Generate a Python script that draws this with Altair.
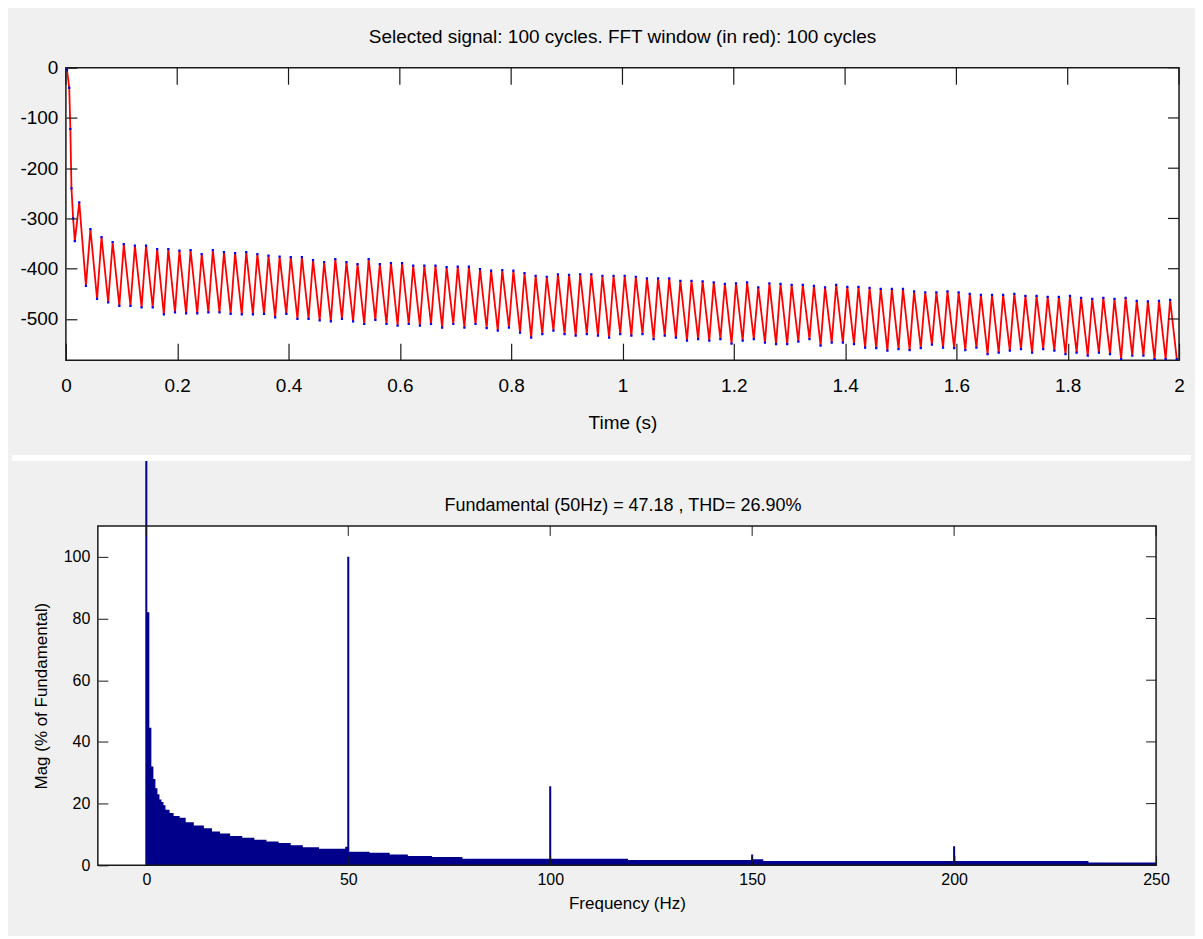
import altair as alt
import pandas as pd

SANS = "Liberation Sans, Arial, Helvetica, sans-serif"
INK = "#1a1a1a"

# ---------------- top panel: selected signal ----------------
transient_t = [0.0, 0.002, 0.006, 0.008, 0.010, 0.013, 0.016]
transient_v = [0, -5, -40, -122, -240, -300, -345]

# per-cycle peak (t = 0.02k + 0.004) and trough (t = 0.02k + 0.016), k = 1..99
peak_v = [
    -268, -321, -337, -347, -351, -354, -354, -361, -361, -364, -363, -371,
    -363, -367, -369, -367, -371, -374, -376, -377, -377, -383, -387, -381,
    -387, -391, -381, -391, -389, -389, -394, -394, -394, -397, -396, -396,
    -401, -404, -403, -404, -409, -414, -416, -411, -412, -411, -411, -414, -414,
    -414, -416, -419, -419, -419, -424, -424, -425, -427, -430, -429, -427,
    -437, -429, -430, -432, -432, -434, -437, -432, -436, -436, -438, -440, -440,
    -440, -445, -447, -447, -445, -447, -450, -452, -452, -452, -450, -454,
    -454, -456, -456, -454, -458, -460, -458, -460, -458, -464, -465, -464, -462,
]
trough_v = [
    -434, -460, -467, -474, -474, -477, -477, -491, -487, -489, -489, -487,
    -487, -490, -491, -491, -490, -497, -490, -500, -500, -503, -505, -500,
    -505, -510, -502, -510, -513, -510, -513, -510, -517, -510, -517, -510,
    -518, -523, -517, -527, -537, -530, -523, -530, -533, -530, -533, -537, -530,
    -533, -530, -540, -533, -537, -543, -540, -543, -540, -549, -543, -540,
    -547, -550, -550, -545, -540, -553, -547, -547, -550, -557, -558, -563, -560,
    -562, -558, -551, -557, -558, -562, -557, -570, -567, -563, -560, -567,
    -560, -563, -570, -567, -573, -567, -570, -580, -573, -573, -580, -580, -580,
]
time_ticks = [0, 0.2, 0.4, 0.6, 0.8, 1, 1.2, 1.4, 1.6, 1.8, 2]
sig_ticks = [-500, -400, -300, -200, -100, 0]

rows = [{"t": t, "v": v} for t, v in zip(transient_t, transient_v)]
for k in range(1, 100):
    rows.append({"t": round(0.02 * k + 0.004, 4), "v": peak_v[k - 1]})
    rows.append({"t": round(0.02 * k + 0.016, 4), "v": trough_v[k - 1]})
sig = pd.DataFrame(rows)

# ---------------- bottom panel: FFT spectrum ----------------
# step edges (Hz) and magnitude (% of fundamental) of the bar envelope
env_f = [-0.25, 0.25, 0.75, 1.25, 1.75, 2.25, 2.75, 3.25, 3.75, 4.25,
         4.75, 5.75, 6.75, 8.25, 9.75, 11.75, 14.25, 16.25, 18.25, 20.75,
         23.75, 26.75, 29.75, 32.75, 35.75, 38.75, 42.75, 49.25, 49.75, 50.25,
         55.25, 60.25, 64.75, 70.75, 78.25, 99.75, 100.25, 119.25, 149.75, 150.25,
         152.75, 199.75, 200.25, 233.25, 250]
env_v = [131, 82, 44.6, 32, 28, 25, 23, 21.3, 20.5, 19.5,
         18, 17, 16, 15.4, 14, 12.9, 12, 11, 10.3, 9.5,
         8.9, 8.3, 7.7, 7.2, 6.5, 5.9, 5.4, 6.0, 100, 4.4,
         4.1, 3.5, 3.0, 2.7, 2.15, 25.6, 2.1, 1.7, 3.5, 2.0,
         1.4, 6.2, 1.4, 0.9, 0.9]
freq_ticks = [0, 50, 100, 150, 200, 250]
mag_ticks = [0, 20, 40, 60, 80, 100]
freq_limits = [-12, 250]
mag_limits = [0, 110]

spec = pd.DataFrame({"f": env_f, "m": env_v})

# ================= top chart =================
W1, H1 = 1115, 293
xs1 = alt.Scale(domain=[0, 2], nice=False, zero=False)
ys1 = alt.Scale(domain=[-582, 0], nice=False, zero=False)

x_axis1 = alt.Axis(values=time_ticks, format="~g", offset=-17, tickSize=17, domain=False,
                   grid=False, labelFont=SANS, labelFontSize=19, labelColor="#000",
                   labelPadding=16, labelFlush=False, labelOverlap=False, tickColor=INK,
                   tickWidth=1.2, title="Time (s)", titleFont=SANS, titleFontSize=19,
                   titleFontWeight="normal", titleColor="#000", titlePadding=18, zindex=1)
y_axis1 = alt.Axis(values=sig_ticks, labelExpr="'' + datum.value", offset=-11, tickSize=11,
                   domain=False, grid=False, labelFont=SANS, labelFontSize=19,
                   labelColor="#000", labelPadding=8, labelOverlap=False, tickColor=INK,
                   tickWidth=1.2, title=None, zindex=1)

red = alt.Chart(sig).mark_line(color="#ff0000", strokeWidth=1.8, clip=True).encode(
    x=alt.X("t:Q", scale=xs1, axis=x_axis1),
    y=alt.Y("v:Q", scale=ys1, axis=y_axis1),
    order="t:Q",
)
blue = alt.Chart(sig).mark_square(color="#0000ff", size=5, opacity=1, clip=True).encode(
    x=alt.X("t:Q", scale=xs1),
    y=alt.Y("v:Q", scale=ys1),
)
top_ticks1 = alt.Chart(pd.DataFrame({"t": time_ticks})).mark_rule(color=INK, strokeWidth=1.2).encode(
    x=alt.X("t:Q", scale=xs1), y=alt.value(0), y2=alt.value(17))
right_ticks1 = alt.Chart(pd.DataFrame({"v": sig_ticks})).mark_rule(color=INK, strokeWidth=1.2).encode(
    y=alt.Y("v:Q", scale=ys1), x=alt.value(W1 - 11), x2=alt.value(W1))

top = alt.layer(red, blue, top_ticks1, right_ticks1).properties(
    width=W1, height=H1,
    view=alt.ViewBackground(fill="white", stroke=INK, strokeWidth=1.5),
    title=alt.TitleParams("Selected signal: 100 cycles. FFT window (in red): 100 cycles",
                          font=SANS, fontSize=19, fontWeight="normal", color="#000",
                          anchor="middle", frame="group", offset=12),
)

# ================= bottom chart =================
W2, H2 = 1092, 340
xs2 = alt.Scale(domain=freq_limits, range=[32, W2], nice=False, zero=False)
ys2 = alt.Scale(domain=mag_limits, nice=False)

x_axis2 = alt.Axis(values=freq_ticks, format="d", offset=-10, tickSize=10, domain=False,
                   grid=False, labelFont=SANS, labelFontSize=16, labelColor="#000",
                   labelPadding=6, labelFlush=False, labelOverlap=False, tickColor=INK,
                   title="Frequency (Hz)", titleFont=SANS, titleFontSize=17,
                   titleFontWeight="normal", titleColor="#000", titlePadding=8, zindex=1)
y_axis2 = alt.Axis(values=mag_ticks, format="d", offset=-42, tickSize=10, domain=False,
                   grid=False, labelFont=SANS, labelFontSize=16, labelColor="#000",
                   labelPadding=8, labelOverlap=False, tickColor=INK,
                   title="Mag (% of Fundamental)", titleFont=SANS, titleFontSize=17,
                   titleFontWeight="normal", titleColor="#000", titlePadding=13, zindex=1)

frame_df = pd.DataFrame({"f0": [freq_limits[0]], "f1": [freq_limits[1]],
                         "m0": [mag_limits[0]], "m1": [mag_limits[1]]})
bg = alt.Chart(frame_df).mark_rect(fill="white").encode(
    x=alt.X("f0:Q", scale=xs2), x2="f1:Q",
    y=alt.Y("m0:Q", scale=ys2), y2="m1:Q")
bars = alt.Chart(spec).mark_area(interpolate="step-after", color="#00008b", clip=False).encode(
    x=alt.X("f:Q", scale=xs2, axis=x_axis2),
    y=alt.Y("m:Q", scale=ys2, axis=y_axis2),
)
frame = alt.Chart(frame_df).mark_rect(fill="transparent", stroke=INK, strokeWidth=1.5).encode(
    x=alt.X("f0:Q", scale=xs2), x2="f1:Q",
    y=alt.Y("m0:Q", scale=ys2), y2="m1:Q")
top_ticks2 = alt.Chart(pd.DataFrame({"f": freq_ticks})).mark_rule(color=INK).encode(
    x=alt.X("f:Q", scale=xs2), y=alt.value(0), y2=alt.value(10))
right_ticks2 = alt.Chart(pd.DataFrame({"m": mag_ticks})).mark_rule(color=INK).encode(
    y=alt.Y("m:Q", scale=ys2), x=alt.value(W2 - 10), x2=alt.value(W2))
separator = alt.Chart(pd.DataFrame({"a": [0]})).mark_rule(color="white", strokeWidth=6, clip=False).encode(
    x=alt.value(-54), x2=alt.value(1127), y=alt.value(-68))

bottom = alt.layer(bg, bars, frame, top_ticks2, right_ticks2, separator).properties(
    width=W2, height=H2,
    view=alt.ViewBackground(fill="transparent", stroke="transparent"),
    title=alt.TitleParams("Fundamental (50Hz) = 47.18 , THD= 26.90%", font=SANS,
                          fontSize=18, fontWeight="normal", color="#000",
                          anchor="middle", frame="group", offset=10, dx=12, dy=70),
)

chart = alt.vconcat(top, bottom, spacing=21).properties(
    padding={"left": 0, "right": 0, "top": 18, "bottom": 23},
    background="#f0f0f0",
)

chart.save("out.html", embed_options={"renderer": "svg", "actions": False})
